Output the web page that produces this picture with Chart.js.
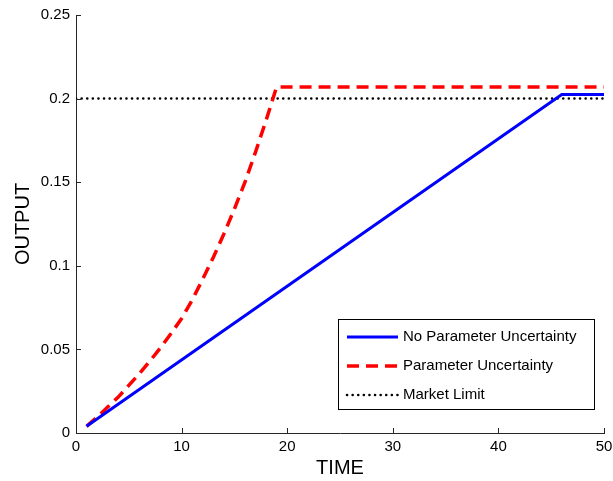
<!DOCTYPE html>
<html>
<head>
<meta charset="utf-8">
<script src="https://cdn.jsdelivr.net/npm/chart.js@4/dist/chart.umd.min.js"></script>
<style>
body { margin: 0; background: #fff; }
</style>
</head>
<body>
<canvas id="chart" width="613" height="481"></canvas>
<script>
// series
const timeNoUnc = [1, 46, 50]
const outNoUnc = [0.004, 0.2025, 0.2025]

const timeUnc = [1, 2, 3, 4, 5, 6, 7, 8, 9, 10, 11, 12, 13, 14, 15, 16, 17, 18, 19, 50]
const outUnc = [0.004, 0.0095, 0.0155, 0.0215, 0.0285, 0.0355, 0.043, 0.051, 0.0595, 0.0685,
    0.0795, 0.092, 0.105, 0.119, 0.134, 0.150, 0.168, 0.187, 0.207, 0.207]

const timeLimit = [0, 50]
const outLimit = [0.2, 0.2]

const seriesNames = ['No Parameter Uncertainty', 'Parameter Uncertainty', 'Market Limit']

const xTicks = [0, 10, 20, 30, 40, 50]
const xTickLabels = ['0', '10', '20', '30', '40', '50']
const yTicks = [0, 0.05, 0.1, 0.15, 0.2, 0.25]
const yTickLabels = ['0', '0.05', '0.1', '0.15', '0.2', '0.25']

const FONT = 'Liberation Sans, Arial, sans-serif'
const AXIS_COLOR = '#262626'

function toPoints(xs, ys) {
    return xs.map((x, i) => ({ x: x, y: ys[i] }))
}

// matlab style ticks pointing into the axes
const innerTicks = {
    id: 'innerTicks',
    afterDraw(chart) {
        const ctx = chart.ctx
        const x = chart.scales.x
        const y = chart.scales.y
        const area = chart.chartArea
        ctx.save()
        ctx.strokeStyle = AXIS_COLOR
        ctx.lineWidth = 1
        ctx.beginPath()
        xTicks.forEach(v => {
            const px = Math.round(x.getPixelForValue(v)) + 0.5
            ctx.moveTo(px, area.bottom)
            ctx.lineTo(px, area.bottom - 5)
        })
        yTicks.forEach(v => {
            const py = Math.round(y.getPixelForValue(v)) + 0.5
            ctx.moveTo(area.left, py)
            ctx.lineTo(area.left + 5, py)
        })
        ctx.stroke()
        ctx.restore()
    }
}

// legend box sitting inside the plot, bottom right
const boxLegend = {
    id: 'boxLegend',
    afterDraw(chart) {
        const ctx = chart.ctx
        const left = 338, top = 319, w = 256, h = 90
        ctx.save()
        ctx.fillStyle = '#fff'
        ctx.fillRect(left, top, w, h)
        ctx.strokeStyle = '#000'
        ctx.lineWidth = 1
        ctx.strokeRect(left + 0.5, top + 0.5, w, h)
        ctx.font = '15px ' + FONT
        ctx.textBaseline = 'middle'
        chart.data.datasets.forEach((ds, i) => {
            const rowY = top + 18 + i * 29
            ctx.beginPath()
            ctx.strokeStyle = ds.borderColor
            ctx.lineWidth = ds.borderWidth
            ctx.lineCap = ds.borderCapStyle || 'butt'
            ctx.setLineDash(ds.borderDash || [])
            ctx.moveTo(347, rowY)
            ctx.lineTo(398, rowY)
            ctx.stroke()
            ctx.setLineDash([])
            ctx.fillStyle = '#000'
            ctx.fillText(ds.label, 403, rowY)
        })
        ctx.restore()
    }
}

new Chart(document.getElementById('chart'), {
    type: 'line',
    data: {
        datasets: [
            {
                label: seriesNames[0],
                data: toPoints(timeNoUnc, outNoUnc),
                borderColor: '#0000ff',
                borderWidth: 3,
                pointRadius: 0,
                tension: 0
            },
            {
                label: seriesNames[1],
                data: toPoints(timeUnc, outUnc),
                borderColor: '#ff0000',
                borderWidth: 3.5,
                borderDash: [12, 7],
                pointRadius: 0,
                tension: 0
            },
            {
                label: seriesNames[2],
                data: toPoints(timeLimit, outLimit),
                borderColor: '#000000',
                borderWidth: 2.5,
                borderDash: [0.1, 5.5],
                borderCapStyle: 'round',
                pointRadius: 0,
                tension: 0
            }
        ]
    },
    options: {
        responsive: false,
        devicePixelRatio: 1,
        animation: false,
        layout: { padding: { left: 0, top: 15, right: 9, bottom: 0 } },
        plugins: {
            legend: { display: false },
            tooltip: { enabled: false }
        },
        scales: {
            x: {
                type: 'linear',
                min: 0,
                max: 50,
                afterFit: s => { s.height = 48; s.paddingLeft = 0; s.paddingRight = 0 },
                afterBuildTicks: s => { s.ticks = xTicks.map(v => ({ value: v })) },
                grid: { display: false, drawTicks: false },
                border: { display: true, color: AXIS_COLOR, width: 1 },
                ticks: {
                    padding: 5,
                    color: '#000',
                    font: { family: FONT, size: 15 },
                    maxRotation: 0,
                    callback: (v) => xTickLabels[xTicks.indexOf(v)]
                },
                title: {
                    display: true,
                    text: 'TIME',
                    color: '#000',
                    font: { family: FONT, size: 20 },
                    padding: { top: 0, bottom: 0.5 }
                }
            },
            y: {
                min: 0,
                max: 0.25,
                afterFit: s => { s.width = 76; s.paddingTop = 0; s.paddingBottom = 0 },
                afterBuildTicks: s => { s.ticks = yTicks.map(v => ({ value: v })) },
                grid: { display: false, drawTicks: false },
                border: { display: true, color: AXIS_COLOR, width: 1 },
                ticks: {
                    padding: 6,
                    color: '#000',
                    font: { family: FONT, size: 15 },
                    callback: (v) => yTickLabels[yTicks.indexOf(v)]
                },
                title: {
                    display: true,
                    text: 'OUTPUT',
                    color: '#000',
                    font: { family: FONT, size: 20 },
                    padding: { top: 11, bottom: 0 }
                }
            }
        }
    },
    plugins: [innerTicks, boxLegend]
})
</script>
</body>
</html>
